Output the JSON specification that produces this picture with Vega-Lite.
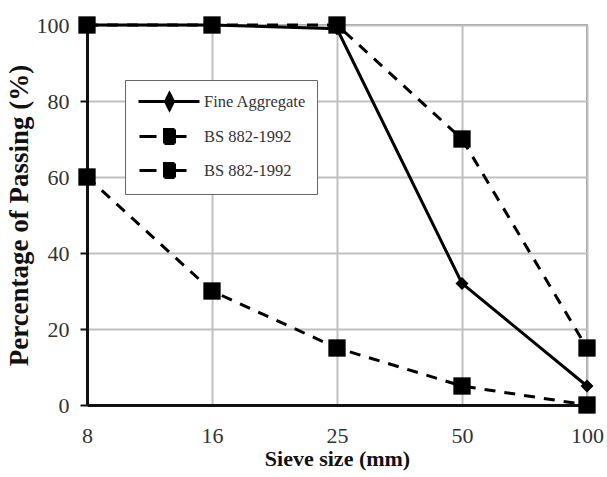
{
  "$schema": "https://vega.github.io/schema/vega-lite/v6.json",
  "width": 500,
  "height": 380,
  "autosize": "none",
  "padding": {"left": 87, "top": 25, "right": 20, "bottom": 72},
  "background": "white",
  "config": {
    "font": "Liberation Serif",
    "view": {"stroke": "#9a9a9a", "strokeWidth": 2}
  },
  "data": {
    "values": [
      {"size": "8", "series": "Fine Aggregate", "value": 100},
      {"size": "16", "series": "Fine Aggregate", "value": 100},
      {"size": "25", "series": "Fine Aggregate", "value": 99},
      {"size": "50", "series": "Fine Aggregate", "value": 32},
      {"size": "100", "series": "Fine Aggregate", "value": 5},
      {"size": "8", "series": "BS upper", "value": 100},
      {"size": "16", "series": "BS upper", "value": 100},
      {"size": "25", "series": "BS upper", "value": 100},
      {"size": "50", "series": "BS upper", "value": 70},
      {"size": "100", "series": "BS upper", "value": 15},
      {"size": "8", "series": "BS lower", "value": 60},
      {"size": "16", "series": "BS lower", "value": 30},
      {"size": "25", "series": "BS lower", "value": 15},
      {"size": "50", "series": "BS lower", "value": 5},
      {"size": "100", "series": "BS lower", "value": 0}
    ]
  },
  "encoding": {
    "x": {
      "field": "size", "type": "ordinal",
      "sort": ["8", "16", "25", "50", "100"],
      "scale": {"type": "point", "padding": 0},
      "axis": {
        "title": "Sieve size (mm)", "labelAngle": 0,
        "labelFont": "Liberation Serif", "labelFontSize": 22, "labelColor": "#333",
        "labelPadding": 20, "ticks": false,
        "titleFont": "Liberation Serif", "titleFontSize": 22, "titleFontWeight": "bold", "titleColor": "#111",
        "titlePadding": 2,
        "grid": true, "gridColor": "#c0c0c0", "gridWidth": 2,
        "domainColor": "#111", "domainWidth": 3
      }
    },
    "y": {
      "field": "value", "type": "quantitative",
      "scale": {"domain": [0, 100]},
      "axis": {
        "title": "Percentage of Passing (%)", "values": [0, 20, 40, 60, 80, 100],
        "labelFont": "Liberation Serif", "labelFontSize": 22, "labelColor": "#333",
        "labelPadding": 11, "tickSize": 7, "tickColor": "#111", "tickWidth": 2,
        "titleFont": "Liberation Serif", "titleFontSize": 27, "titleFontWeight": "bold", "titleColor": "#111",
        "titlePadding": 3,
        "grid": true, "gridColor": "#c0c0c0", "gridWidth": 2,
        "domainColor": "#111", "domainWidth": 3
      }
    },
    "color": {
      "field": "series", "type": "nominal",
      "scale": {
        "domain": ["Fine Aggregate", "BS upper", "BS lower"],
        "range": ["black", "black", "black"]
      },
      "legend": {
        "title": null, "orient": "none", "legendX": 38, "legendY": 55,
        "direction": "vertical",
        "strokeColor": "#666", "fillColor": "white", "padding": 10,
        "labelFont": "Liberation Serif", "labelFontSize": 16.5, "labelColor": "#333",
        "labelOffset": 46,
        "labelExpr": "datum.value == 'Fine Aggregate' ? 'Fine Aggregate' : '\u00a0BS 882-1992'",
        "rowPadding": 7, "symbolSize": 400, "symbolStrokeWidth": 3,
        "symbolStrokeColor": "black", "symbolFillColor": "black", "symbolDash": [1, 0],
        "encode": {
          "symbols": {
            "update": {
              "shape": {"signal": "datum.value == 'Fine Aggregate' ? 'M-0.8,0H5.3M2.3,-0.8L2.7,0L2.3,0.8L1.9,0Z' : 'M-0.7,0H1.0M1.8,-0.7H2.8V0.7H1.8ZM2.8,0H4.0'"},
              "fill": {"value": "black"},
              "stroke": {"value": "black"},
              "strokeDash": {"value": [1, 0]}
            }
          }
        }
      }
    }
  },
  "layer": [
    {
      "transform": [{"filter": "datum.series == 'Fine Aggregate'"}],
      "mark": {"type": "line", "strokeWidth": 3}
    },
    {
      "transform": [{"filter": "datum.series != 'Fine Aggregate'"}],
      "mark": {"type": "line", "strokeWidth": 3, "strokeDash": [11, 9]}
    },
    {
      "transform": [{"filter": "datum.series == 'Fine Aggregate'"}],
      "mark": {"type": "point", "filled": true, "opacity": 1, "shape": "diamond", "size": 170}
    },
    {
      "transform": [{"filter": "datum.series != 'Fine Aggregate'"}],
      "mark": {"type": "point", "filled": true, "opacity": 1, "shape": "square", "size": 300}
    }
  ]
}
